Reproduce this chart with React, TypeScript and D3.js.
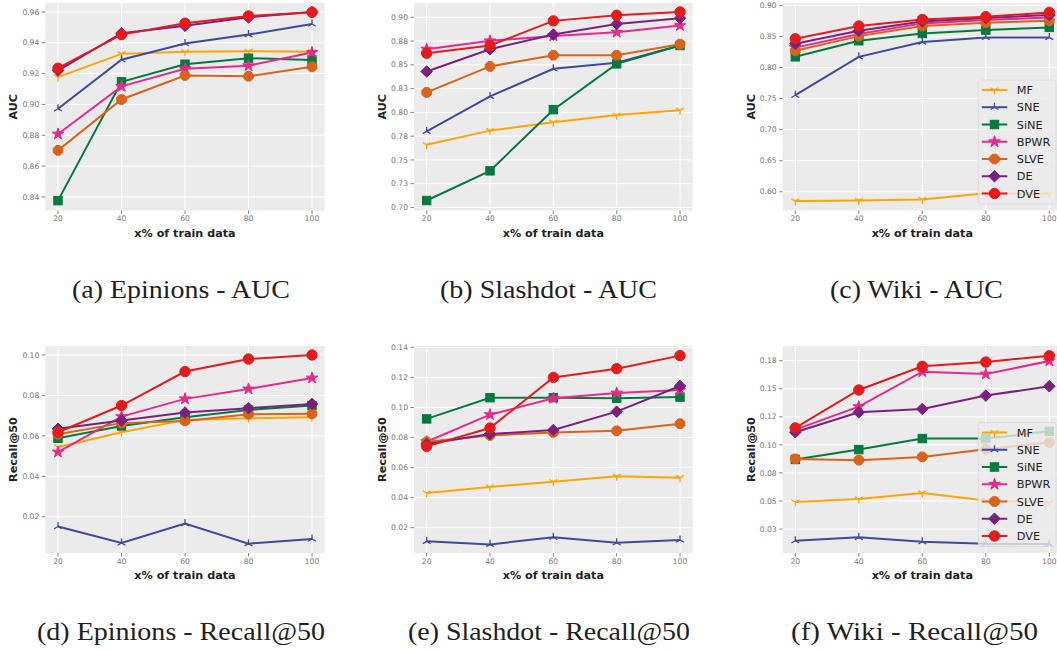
import React from "react";
import * as d3 from "d3";

// ---------- data ----------
const xValues = [20, 40, 60, 80, 100];
const seriesNames = ["MF", "SNE", "SiNE", "BPWR", "SLVE", "DE", "DVE"];
const seriesColors = ["#ffa500", "#3e4a9c", "#007a3d", "#e7298a", "#d9631a", "#7a2180", "#e41a1c"];
const seriesMarkers = ["tri_down", "tri_up", "square", "star", "octagon", "diamond", "circle"];

// order of rows: MF, SNE, SiNE, BPWR, SLVE, DE, DVE
const epinionsAUC = [
  [0.9177, 0.9328, 0.9341, 0.9345, 0.9341],
  [0.8972, 0.929, 0.9395, 0.9453, 0.9522],
  [0.8376, 0.9147, 0.9261, 0.930, 0.9289],
  [0.8808, 0.9117, 0.9232, 0.9251, 0.9337],
  [0.8702, 0.9032, 0.9188, 0.9183, 0.9244],
  [0.922, 0.9462, 0.951, 0.9565, 0.960],
  [0.9235, 0.9453, 0.9527, 0.9574, 0.9598],
];
const slashdotAUC = [
  [0.766, 0.7808, 0.7895, 0.7972, 0.8021],
  [0.780, 0.8168, 0.8458, 0.8521, 0.8703],
  [0.7073, 0.7385, 0.8028, 0.851, 0.8703],
  [0.8664, 0.8752, 0.8804, 0.8843, 0.8913],
  [0.821, 0.8483, 0.8601, 0.8601, 0.8717],
  [0.843, 0.8664, 0.8818, 0.893, 0.899],
  [0.8622, 0.8703, 0.8962, 0.9021, 0.9056],
];
const wikiAUC = [
  [0.585, 0.586, 0.5876, 0.5978, 0.5968],
  [0.7554, 0.8172, 0.8409, 0.8484, 0.8484],
  [0.8172, 0.843, 0.8548, 0.8602, 0.8645],
  [0.832, 0.8538, 0.871, 0.8763, 0.8806],
  [0.8269, 0.8505, 0.8667, 0.872, 0.8753],
  [0.8382, 0.8591, 0.8742, 0.8796, 0.8844],
  [0.8462, 0.8667, 0.8774, 0.8817, 0.8887],
];
const epinionsRecall = [
  [0.0544, 0.0618, 0.0679, 0.0687, 0.0692],
  [0.0152, 0.007, 0.0166, 0.0067, 0.009],
  [0.0588, 0.0649, 0.0692, 0.0728, 0.075],
  [0.052, 0.0695, 0.0783, 0.0832, 0.0886],
  [0.0608, 0.0663, 0.0674, 0.0707, 0.0709],
  [0.0635, 0.0676, 0.0715, 0.0737, 0.0758],
  [0.0618, 0.075, 0.0918, 0.098, 0.100],
];
const slashdotRecall = [
  [0.0431, 0.0471, 0.0506, 0.0542, 0.0533],
  [0.0109, 0.0089, 0.0136, 0.010, 0.0118],
  [0.0924, 0.1065, 0.1065, 0.1061, 0.1069],
  [0.0772, 0.0952, 0.1061, 0.1096, 0.1116],
  [0.0772, 0.0814, 0.0834, 0.0845, 0.0892],
  [0.0757, 0.0823, 0.085, 0.0972, 0.1143],
  [0.0741, 0.0863, 0.120, 0.1258, 0.1345],
];
const wikiRecall = [
  [0.049, 0.0517, 0.057, 0.0505, 0.0487],
  [0.0146, 0.0176, 0.0137, 0.0119, 0.0116],
  [0.087, 0.0958, 0.1056, 0.1056, 0.1121],
  [0.1136, 0.1341, 0.1652, 0.1631, 0.1747],
  [0.0875, 0.0864, 0.0893, 0.0961, 0.1021],
  [0.1113, 0.129, 0.132, 0.1439, 0.1522],
  [0.1151, 0.1489, 0.170, 0.1738, 0.1794],
];

const ticksA = [0.84, 0.86, 0.88, 0.90, 0.92, 0.94, 0.96];
const labelsA = ["0.84", "0.86", "0.88", "0.90", "0.92", "0.94", "0.96"];
const ticksB = [0.7, 0.725, 0.75, 0.775, 0.8, 0.825, 0.85, 0.875, 0.9];
const labelsB = ["0.70", "0.73", "0.75", "0.78", "0.80", "0.83", "0.85", "0.88", "0.90"];
const ticksC = [0.6, 0.65, 0.7, 0.75, 0.8, 0.85, 0.9];
const labelsC = ["0.60", "0.65", "0.70", "0.75", "0.80", "0.85", "0.90"];
const ticksD = [0.02, 0.04, 0.06, 0.08, 0.1];
const labelsD = ["0.02", "0.04", "0.06", "0.08", "0.10"];
const ticksE = [0.02, 0.04, 0.06, 0.08, 0.1, 0.12, 0.14];
const labelsE = ["0.02", "0.04", "0.06", "0.08", "0.10", "0.12", "0.14"];
const ticksF = [0.025, 0.05, 0.075, 0.1, 0.125, 0.15, 0.175];
const labelsF = ["0.03", "0.05", "0.08", "0.10", "0.12", "0.15", "0.18"];

const captions = [
  "(a) Epinions - AUC",
  "(b) Slashdot - AUC",
  "(c) Wiki - AUC",
  "(d) Epinions - Recall@50",
  "(e) Slashdot - Recall@50",
  "(f) Wiki - Recall@50",
];

// ---------- layout ----------
const W = 1057;
const H = 652;
const colX: [number, number][] = [
  [45.3, 324.7],
  [414, 692.7],
  [782.6, 1062],
];
const rowY: [number, number][] = [
  [3, 210.5],
  [346, 553],
];
const captionCenters = [181, 548.5, 916.5, 181, 549, 914.5];
const captionWidths = [218, 217, 173, 288, 282, 247];
const captionY = [298, 640];

const panels = [
  { data: epinionsAUC, yDomain: [0.8312, 0.9658], ticks: ticksA, labels: labelsA, col: 0, row: 0, ylabel: "AUC", legend: false },
  { data: slashdotAUC, yDomain: [0.6968, 0.915], ticks: ticksB, labels: labelsB, col: 1, row: 0, ylabel: "AUC", legend: false },
  { data: wikiAUC, yDomain: [0.5699, 0.9038], ticks: ticksC, labels: labelsC, col: 2, row: 0, ylabel: "AUC", legend: true },
  { data: epinionsRecall, yDomain: [0.00207, 0.10444], ticks: ticksD, labels: labelsD, col: 0, row: 1, ylabel: "Recall@50", legend: false },
  { data: slashdotRecall, yDomain: [0.00316, 0.1409], ticks: ticksE, labels: labelsE, col: 1, row: 1, ylabel: "Recall@50", legend: false },
  { data: wikiRecall, yDomain: [0.00365, 0.1881], ticks: ticksF, labels: labelsF, col: 2, row: 1, ylabel: "Recall@50", legend: true },
];

function Marker({ type, x, y, color }: { type: string; x: number; y: number; color: string }) {
  const sw = 1;
  if (type === "circle") return <circle cx={x} cy={y} r={5.2} fill={color} stroke={color} strokeWidth={sw} />;
  if (type === "square") return <rect x={x - 4.2} y={y - 4.2} width={8.4} height={8.4} fill={color} stroke={color} strokeWidth={sw} />;
  if (type === "diamond") {
    const r = 5.8;
    return <polygon points={`${x},${y - r} ${x + r},${y} ${x},${y + r} ${x - r},${y}`} fill={color} stroke={color} strokeWidth={sw} />;
  }
  if (type === "octagon") {
    const r = 5.2;
    const pts = d3.range(8).map((i) => {
      const a = Math.PI / 8 + (i * Math.PI) / 4;
      return `${x + r * Math.cos(a)},${y + r * Math.sin(a)}`;
    });
    return <polygon points={pts.join(" ")} fill={color} stroke={color} strokeWidth={sw} />;
  }
  if (type === "star") {
    const path = d3.symbol().type(d3.symbolStar).size(42)();
    return <path d={path || ""} transform={`translate(${x},${y})`} fill={color} stroke={color} strokeWidth={sw} />;
  }
  if (type === "tri_down" || type === "tri_up") {
    const r = 4.5;
    const s = type === "tri_down" ? 1 : -1;
    const c = Math.cos(Math.PI / 6) * r;
    const h = 0.5 * r;
    const d = `M${x},${y} L${x},${y + s * r} M${x},${y} L${x - c},${y - s * h} M${x},${y} L${x + c},${y - s * h}`;
    return <path d={d} fill="none" stroke={color} strokeWidth={1.3} />;
  }
  return null;
}

function Panel({ p, idx }: { p: (typeof panels)[number]; idx: number }) {
  const [x0, x1] = colX[p.col];
  const [y0, y1] = rowY[p.row];
  const xs = d3.scaleLinear().domain([16, 104]).range([x0, x1]);
  const ys = d3.scaleLinear().domain(p.yDomain).range([y1, y0]);
  const line = d3
    .line<number>()
    .x((_, i) => xs(xValues[i]))
    .y((d) => ys(d));
  const clipId = `clip${idx}`;
  const legendW = 77.7;
  const legendH = 124;
  const lx = 978.3;
  const ly = y1 - 6.5 - legendH;
  return (
    <g>
      <defs>
        <clipPath id={clipId}>
          <rect x={x0} y={y0} width={x1 - x0} height={y1 - y0} />
        </clipPath>
      </defs>
      <rect x={x0} y={y0} width={x1 - x0} height={y1 - y0} fill="#ebebeb" />
      {p.ticks.map((t, i) => (
        <line key={"gy" + i} x1={x0} x2={x1} y1={ys(t)} y2={ys(t)} stroke="#ffffff" strokeWidth={1} />
      ))}
      {xValues.map((t, i) => (
        <line key={"gx" + i} x1={xs(t)} x2={xs(t)} y1={y0} y2={y1} stroke="#ffffff" strokeWidth={1} />
      ))}
      {p.ticks.map((t, i) => (
        <g key={"ty" + i}>
          <line x1={x0 - 3.5} x2={x0} y1={ys(t)} y2={ys(t)} stroke="#666" strokeWidth={0.8} />
          <text x={x0 - 6} y={ys(t)} dy="0.35em" textAnchor="end" fontSize={7.6} fill="#777" fontFamily="DejaVu Sans">
            {p.labels[i]}
          </text>
        </g>
      ))}
      {xValues.map((t, i) => (
        <g key={"tx" + i}>
          <line x1={xs(t)} x2={xs(t)} y1={y1} y2={y1 + 3.5} stroke="#666" strokeWidth={0.8} />
          <text x={xs(t)} y={y1 + 10.5} textAnchor="middle" fontSize={7.6} fill="#777" fontFamily="DejaVu Sans">
            {t}
          </text>
        </g>
      ))}
      <text x={(x0 + x1) / 2} y={y1 + 26} textAnchor="middle" fontSize={11.2} fontWeight="bold" fill="#222" fontFamily="DejaVu Sans">
        x% of train data
      </text>
      <text
        transform={`translate(${x0 - 28},${(y0 + y1) / 2}) rotate(-90)`}
        textAnchor="middle"
        fontSize={11.2}
        fontWeight="bold"
        fill="#222"
        fontFamily="DejaVu Sans"
      >
        {p.ylabel}
      </text>
      <g clipPath={`url(#${clipId})`}>
        {p.data.map((vals, si) => (
          <g key={"s" + si}>
            <path d={line(vals) || ""} fill="none" stroke={seriesColors[si]} strokeWidth={2} />
            {vals.map((v, j) => (
              <Marker key={j} type={seriesMarkers[si]} x={xs(xValues[j])} y={ys(v)} color={seriesColors[si]} />
            ))}
          </g>
        ))}
      </g>
      {p.legend && (
        <g>
          <rect x={lx} y={ly} width={legendW} height={legendH} rx={2.5} fill="#ebebeb" fillOpacity={0.8} stroke="#d8d8d8" strokeWidth={0.8} />
          {seriesNames.map((name, i) => {
            const cy = ly + 10 + i * 17.25;
            return (
              <g key={name}>
                <line x1={lx + 3.5} x2={lx + 29} y1={cy} y2={cy} stroke={seriesColors[i]} strokeWidth={2} />
                <Marker type={seriesMarkers[i]} x={lx + 16.2} y={cy} color={seriesColors[i]} />
                <text x={lx + 38.5} y={cy} dy="0.36em" fontSize={11.3} fill="#222" fontFamily="DejaVu Sans">
                  {name}
                </text>
              </g>
            );
          })}
        </g>
      )}
      <text
        x={captionCenters[idx]}
        y={captionY[p.row]}
        textAnchor="middle"
        fontSize={26}
        fill="#231f20"
        fontFamily="Liberation Serif"
        textLength={captionWidths[idx]}
        lengthAdjust="spacingAndGlyphs"
      >
        {captions[idx]}
      </text>
    </g>
  );
}

export default function App() {
  return (
    <svg
      width={W}
      height={H}
      viewBox={`0 0 ${W} ${H}`}
      style={{ position: "absolute", left: 0, top: 0, background: "#fff", display: "block" }}
    >
      <rect x={0} y={0} width={W} height={H} fill="#ffffff" />
      {panels.map((p, i) => (
        <Panel key={i} p={p} idx={i} />
      ))}
    </svg>
  );
}
